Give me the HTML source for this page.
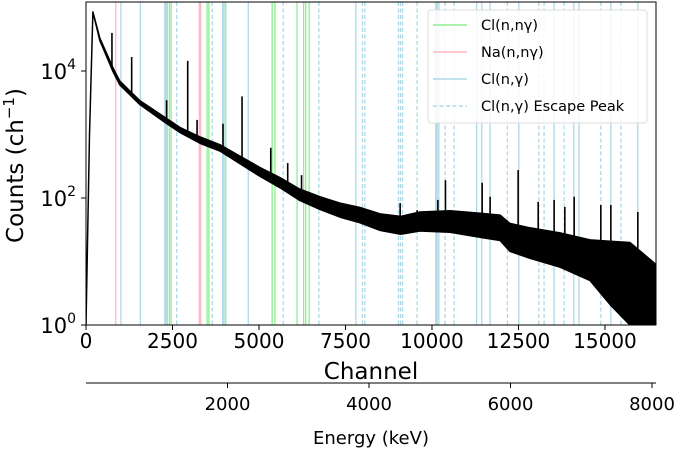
<!DOCTYPE html>
<html><head><meta charset="utf-8"><style>
body{margin:0;background:#fff;}
svg text{font-family:"DejaVu Sans","Liberation Sans",sans-serif;fill:#000;}
</style></head><body>
<svg id="c" width="685" height="453" xmlns="http://www.w3.org/2000/svg"></svg>
<script>
// baseline spectrum (channel, log10 counts, noise half-width in decades)
const baseChannels=[0,100,200,400,780,980,1560,2280,2720,3300,3870,4450,5030,5610,6180,6760,7340,7920,8500,9100,9650,10520,11400,11970,12250,12830,13700,14570,15150,15720,16440];
const baseLog=[0,3.0,4.93,4.5,4.02,3.81,3.50,3.23,3.07,2.91,2.79,2.60,2.41,2.24,2.05,1.92,1.81,1.73,1.62,1.57,1.63,1.63,1.57,1.53,1.38,1.29,1.18,1.02,0.82,0.6,0.42];
const baseNoise=[0,0,0,0.02,0.03,0.03,0.03,0.04,0.04,0.05,0.05,0.06,0.07,0.08,0.09,0.1,0.11,0.12,0.13,0.14,0.15,0.17,0.19,0.2,0.22,0.24,0.27,0.32,0.5,0.7,0.55];
// peaks
const peakChannels=[750,1320,2330,2940,3210,3960,4510,5340,5830,6230,9080,9570,10170,10390,11450,11680,12490,13070,13530,13840,14110,14880,15170,15950];
const peakLog=[4.6,4.22,3.54,4.16,3.23,3.17,3.6,2.79,2.55,2.36,1.92,1.81,1.97,2.28,2.24,2.02,2.44,1.94,1.97,1.86,2.02,1.89,1.89,1.78];
// reference lines (channels)
const clInelastic=[2410,2460,3500,3550,4040,5380,5460,6100,6290,6350,6450];
const naInelastic=[860,3275,3315];
const clCapture=[1010,1570,2280,2310,2350,3950,3990,4690,7800,10110,10150,10200,11290,11440,11680,12510,13530,14100,14250,15170,15950];
const clEscape=[2620,3650,5700,6730,7990,8060,9030,9090,9150,9570,10380,10640,12180,13090,13240,13820,14880,15460];
const xTicks=[0,2500,5000,7500,10000,12500,15000];
const yTicks=[0,2,4];
const eTicks=[2000,4000,6000,8000];

const NS="http://www.w3.org/2000/svg";
const svg=document.getElementById('c');
const L=86,R=656,T=2,B=325;
const xS=c=>L+c*(R-L)/16475;
const yS=l=>B-l*63.5;
const eS=e=>86+e*0.070750;
function mk(tag,attrs,parent){const e=document.createElementNS(NS,tag);for(const k in attrs)e.setAttribute(k,attrs[k]);(parent||svg).appendChild(e);return e;}

const clip=mk('clipPath',{id:'pc'});mk('rect',{x:L,y:T,width:R-L,height:B-T},clip);
const plot=mk('g',{'clip-path':'url(#pc)'});



function vlines(arr,color,dash,name){
  arr.forEach(c=>{const l=mk('line',{x1:xS(c),x2:xS(c),y1:T,y2:B,stroke:color,'stroke-width':1.3},plot);
    if(dash)l.setAttribute('stroke-dasharray','4,2.5');
    
    });
}
vlines(clInelastic,'#90ee90',false,'cl-inelastic-line');
vlines(naInelastic,'#ffb6c1',false,'na-inelastic-line');
vlines(clCapture,'#add8e6',false,'cl-capture-line');
vlines(clEscape,'#add8e6',true,'cl-escape-line');

// spectrum band
let up='',lo='';
baseChannels.forEach((c,i)=>{up+=(i?'L':'M')+xS(c).toFixed(1)+','+yS(baseLog[i]+baseNoise[i]).toFixed(1);});
for(let i=baseChannels.length-1;i>=0;i--){lo+='L'+xS(baseChannels[i]).toFixed(1)+','+yS(Math.max(0,baseLog[i]-baseNoise[i])).toFixed(1);}
const band=mk('path',{d:up+lo+'Z',fill:'#000',stroke:'#000','stroke-width':1.5,'stroke-linejoin':'round'},plot);


function baseAt(c){for(let i=1;i<baseChannels.length;i++){if(c<=baseChannels[i]){const t=(c-baseChannels[i-1])/(baseChannels[i]-baseChannels[i-1]);return baseLog[i-1]+t*(baseLog[i]-baseLog[i-1]);}}return baseLog[baseLog.length-1];}
peakChannels.forEach((c,i)=>{const p=mk('line',{x1:xS(c),x2:xS(c),y1:yS(baseAt(c)),y2:yS(peakLog[i]),stroke:'#000','stroke-width':1.6},plot);
  
  });

// frame
const fr=mk('rect',{x:L,y:T,width:R-L,height:B-T,fill:'none',stroke:'#000','stroke-width':1});



xTicks.forEach(v=>{mk('line',{x1:xS(v),x2:xS(v),y1:B,y2:B+5,stroke:'#000'});
  const t=mk('text',{x:xS(v),y:B+23,'text-anchor':'middle','font-size':20});t.textContent=v;
  
  });
yTicks.forEach(v=>{mk('line',{x1:L-5,x2:L,y1:yS(v),y2:yS(v),stroke:'#000'});
  const t=mk('text',{x:L-10,y:yS(v)+8,'text-anchor':'end','font-size':21});
  t.innerHTML='10<tspan dy="-10" font-size="14">'+v+'</tspan>';
  
  });

const xt=mk('text',{x:(L+R)/2,y:379,'text-anchor':'middle','font-size':23});xt.textContent='Channel';


const yt=mk('text',{x:0,y:0,'text-anchor':'middle','font-size':23,transform:'translate(23,'+((T+B)/2+2)+') rotate(-90)'});
yt.innerHTML='Counts (ch<tspan dy="-9" font-size="15">−1</tspan><tspan dy="9">)</tspan>';



// energy axis
const ea=mk('line',{x1:86,x2:656,y1:383,y2:383,stroke:'#000'});


eTicks.forEach(v=>{mk('line',{x1:eS(v),x2:eS(v),y1:383,y2:388,stroke:'#000'});
  const t=mk('text',{x:eS(v),y:410,'text-anchor':'middle','font-size':18});t.textContent=v;
  
  });
const et=mk('text',{x:(L+R)/2,y:444,'text-anchor':'middle','font-size':18});et.textContent='Energy (keV)';



// legend
const lg=mk('g',{});


mk('rect',{x:428,y:10,width:219,height:113,rx:3,fill:'#fff','fill-opacity':0.85,stroke:'#ddd'},lg);
const items=[['Cl(n,nγ)','#90ee90',false],['Na(n,nγ)','#ffb6c1',false],['Cl(n,γ)','#add8e6',false],['Cl(n,γ) Escape Peak','#add8e6',true]];
items.forEach((it,i)=>{const y=25+i*27;
  const g=mk('g',{},lg);
  
  
  const l=mk('line',{x1:433,x2:467,y1:y,y2:y,stroke:it[1],'stroke-width':1.5},g);
  if(it[2])l.setAttribute('stroke-dasharray','4,2.5');
  const t=mk('text',{x:481,y:y+5,'font-size':14.5},g);t.textContent=it[0];});
</script>
</body></html>
